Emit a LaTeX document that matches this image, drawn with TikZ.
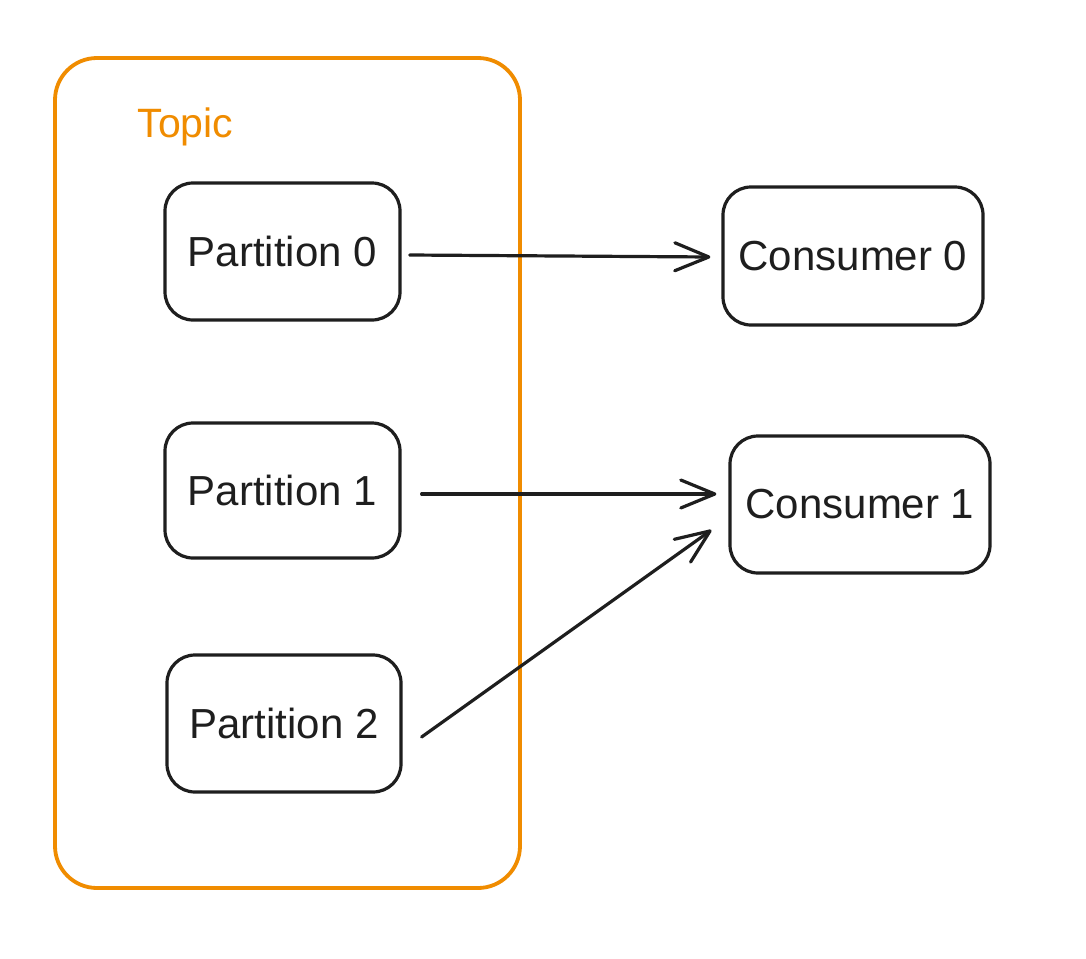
\documentclass[tikz,border=0pt]{standalone}
\usepackage{fontspec}
\setmainfont{Liberation Sans}
\usetikzlibrary{arrows.meta,calc}
\definecolor{ink}{HTML}{1E1E1E}
\definecolor{topicorange}{HTML}{F08C00}
\tikzset{
  box/.style={draw=ink, line width=3.2pt, rounded corners=28pt, inner sep=0pt,
    text=ink, font=\fontsize{42}{50}\selectfont},
  arr/.style={draw=ink, line width=3.2pt, line cap=round,
    -{Straight Barb[length=34pt,width=28pt,line width=3.2pt,round]}},
  topicbox/.style={draw=topicorange, line width=3.8pt, rounded corners=42pt},
}
\begin{document}
\begin{tikzpicture}[x=1pt,y=-1pt]
\useasboundingbox[fill=white] (0,0) rectangle (1086,958);
\node[topicbox, minimum width=465pt, minimum height=830pt] (topic) at (287.5,473) {};
\node[text=topicorange, font=\fontsize{41}{48}\selectfont, anchor=base west] (topiclabel) at (134,137) {Topic};
\node[box, minimum width=235pt, minimum height=137pt] (p0) at (282.5,251.5) {Partition 0};
\node[box, minimum width=235pt, minimum height=135pt] (p1) at (282.5,490.5) {Partition 1};
\node[box, minimum width=234pt, minimum height=137pt] (p2) at (284,723.5) {Partition 2};
\node[box, minimum width=260pt, minimum height=138pt] (c0) at (853,256) {Consumer 0};
\node[box, minimum width=260pt, minimum height=137pt] (c1) at (860,504.5) {Consumer 1};
\draw[arr] ($(p0.east)+(8,3.5)$) -- ($(c0.west)+(-11,1)$);
\draw[arr] ($(p1.east)+(20,3.5)$) -- ($(c1.west)+(-12,-10.5)$);
\draw[arr] ($(p2.east)+(19,13.5)$) -- ($(c1.west)+(-17,25.5)$);
\end{tikzpicture}
\end{document}
